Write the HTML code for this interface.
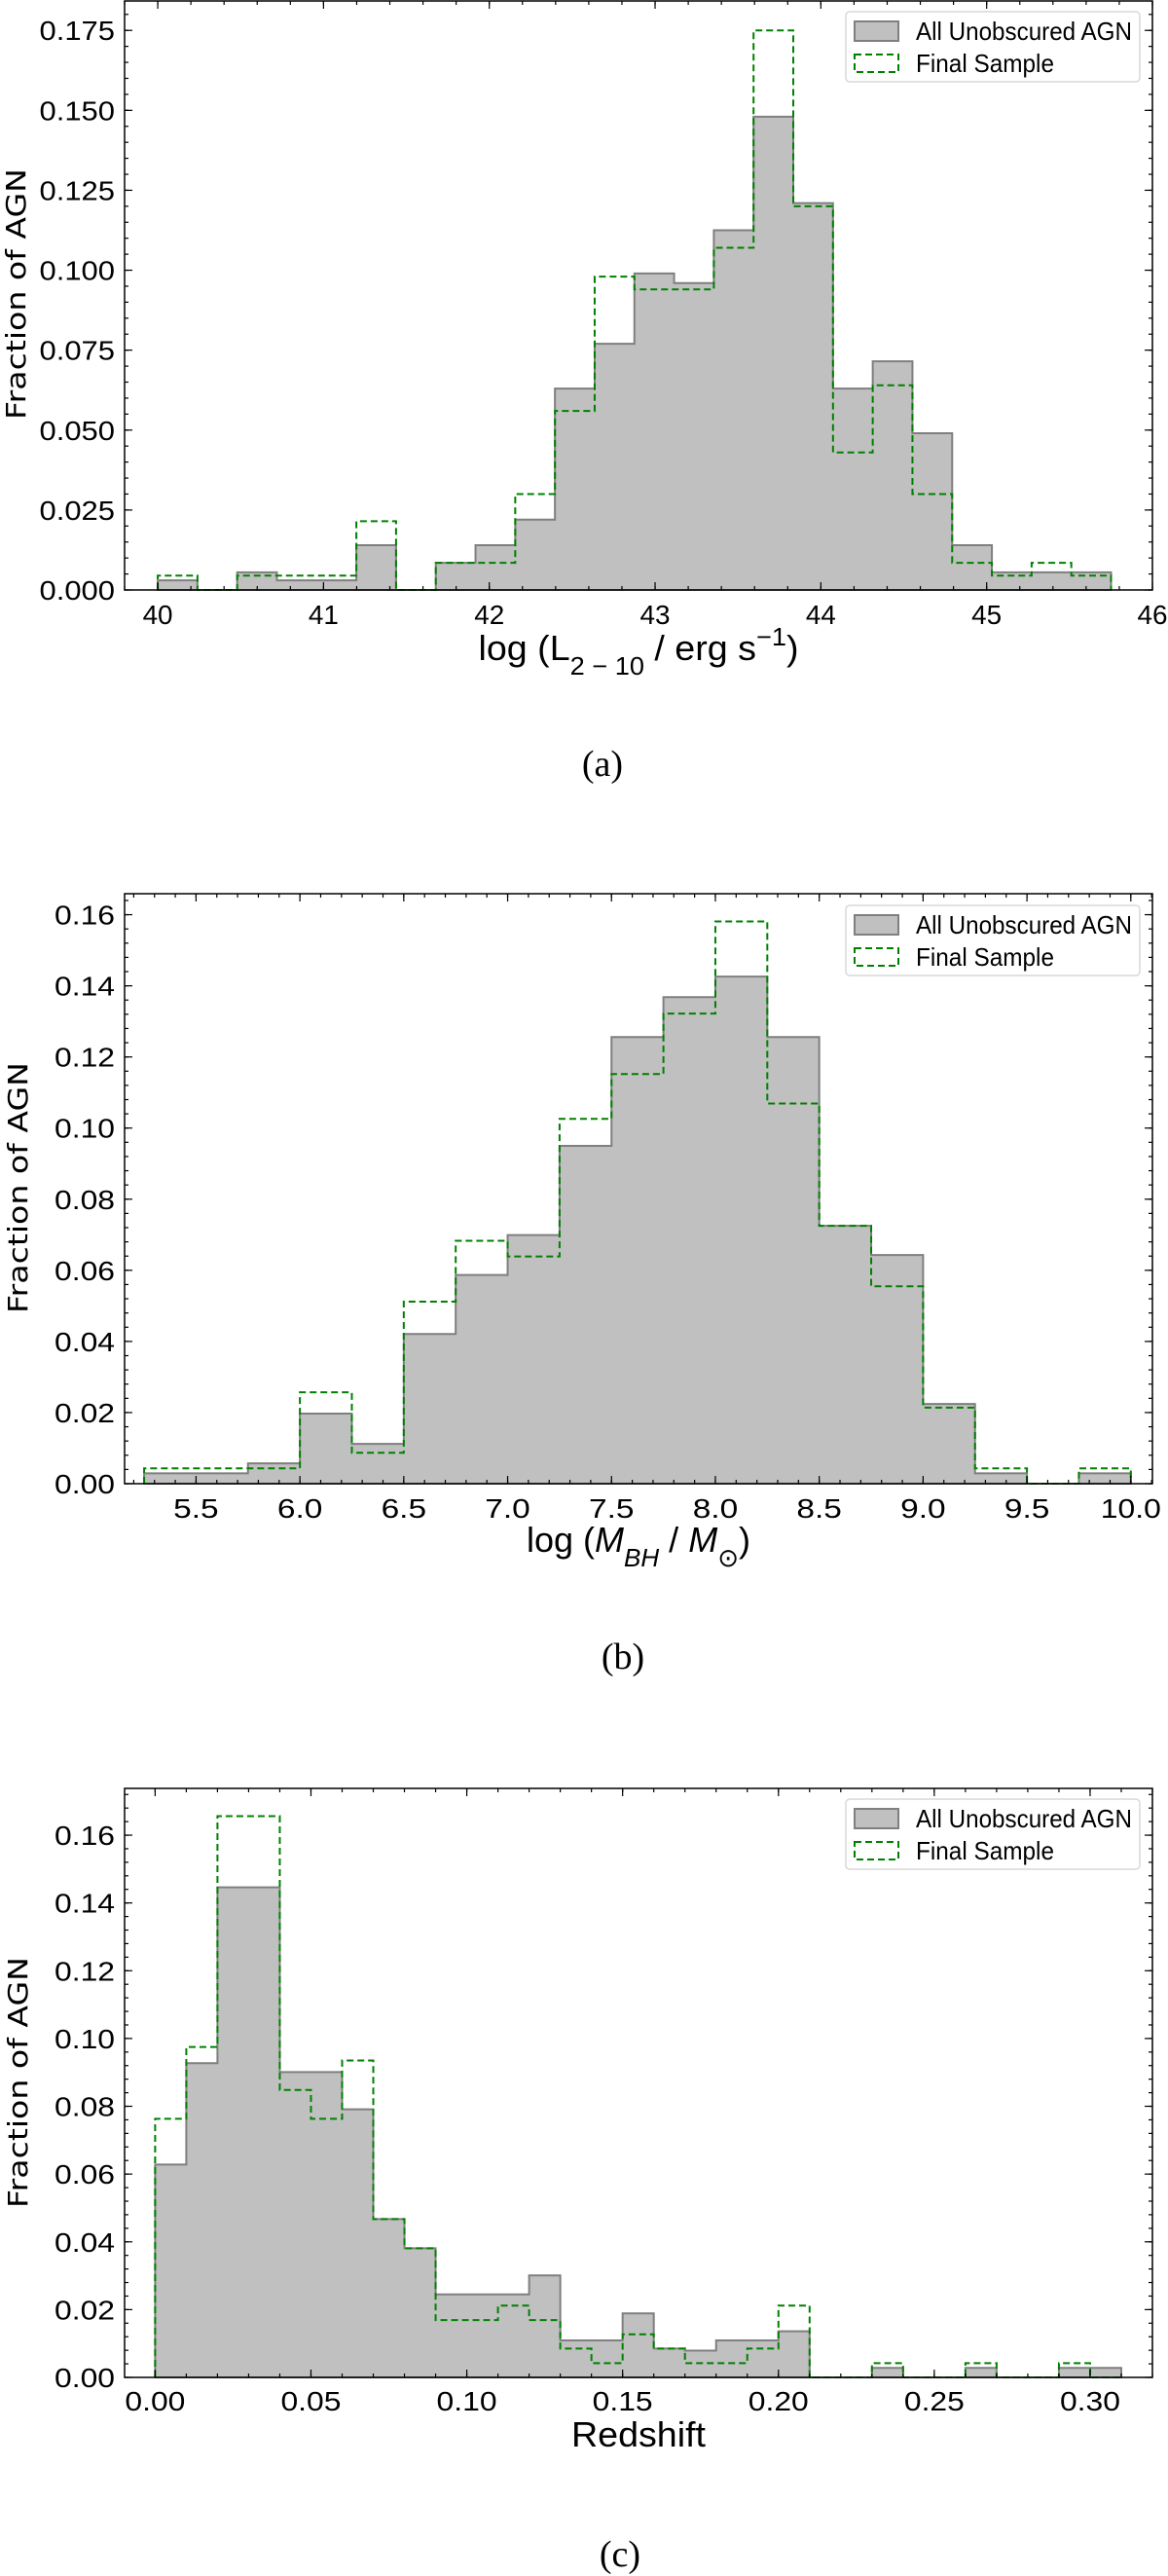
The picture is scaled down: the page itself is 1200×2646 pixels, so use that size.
<!DOCTYPE html>
<html><head><meta charset="utf-8"><style>
html,body{margin:0;padding:0;background:#fff}
svg{display:block}
</style></head><body>
<svg id="fig" width="1200" height="2646" viewBox="0 0 1200 2646" xmlns="http://www.w3.org/2000/svg" font-family="Liberation Sans, DejaVu Sans, sans-serif"></svg>
<script>
// ---- Panel (a): X-ray luminosity ----
const aBinStart = 40.0;
const aBinWidth = 0.2396;
const aAll = [0.003,0,0.0055,0.003,0.003,0.014,0,0.0085,0.014,0.022,0.063,0.077,0.099,0.096,0.1125,0.148,0.121,0.063,0.0715,0.049,0.014,0.0055,0.0055,0.0055];
const aFinal = [0.0045,0,0.0045,0.0045,0.0045,0.0215,0,0.0085,0.0085,0.030,0.056,0.098,0.094,0.094,0.107,0.175,0.120,0.043,0.064,0.030,0.0085,0.0045,0.0085,0.0045];
const aXTicks = [40,41,42,43,44,45,46];
const aXTickLabels = ["40","41","42","43","44","45","46"];
const aYTicks = [0,0.025,0.05,0.075,0.1,0.125,0.15,0.175];
const aYTickLabels = ["0.000","0.025","0.050","0.075","0.100","0.125","0.150","0.175"];

// ---- Panel (b): black hole mass ----
const bBinStart = 5.25;
const bBinWidth = 0.25;
const bAll = [0.0029,0.0029,0.0057,0.0197,0.0112,0.0421,0.0587,0.0699,0.0950,0.1256,0.1368,0.1426,0.1256,0.0725,0.0643,0.0224,0.0029,0,0.0029];
const bFinal = [0.0043,0.0043,0.0043,0.0257,0.0087,0.0512,0.0683,0.0639,0.1026,0.1152,0.1322,0.1581,0.1069,0.0725,0.0555,0.0214,0.0043,0,0.0043];
const bXTicks = [5.5,6,6.5,7,7.5,8,8.5,9,9.5,10];
const bXTickLabels = ["5.5","6.0","6.5","7.0","7.5","8.0","8.5","9.0","9.5","10.0"];
const bYTicks = [0,0.02,0.04,0.06,0.08,0.1,0.12,0.14,0.16];
const bYTickLabels = ["0.00","0.02","0.04","0.06","0.08","0.10","0.12","0.14","0.16"];

// ---- Panel (c): redshift ----
const cBinStart = 0.0;
const cBinWidth = 0.01;
const cAll = [0.0628,0.0927,0.1446,0.1446,0.0901,0.0901,0.0791,0.0467,0.0381,0.0245,0.0245,0.0245,0.0301,0.0109,0.0109,0.0189,0.0085,0.0079,0.0109,0.0109,0.0136,0,0,0.0028,0,0,0.0028,0,0,0.0028,0.0028];
const cFinal = [0.0763,0.0975,0.1656,0.1656,0.0848,0.0763,0.0935,0.0467,0.0381,0.0169,0.0169,0.0212,0.0169,0.0085,0.0042,0.0127,0.0085,0.0042,0.0042,0.0085,0.0212,0,0,0.0042,0,0,0.0042,0,0,0.0042,0];
const cXTicks = [0,0.05,0.1,0.15,0.2,0.25,0.3];
const cXTickLabels = ["0.00","0.05","0.10","0.15","0.20","0.25","0.30"];
const cYTicks = [0,0.02,0.04,0.06,0.08,0.1,0.12,0.14,0.16];
const cYTickLabels = ["0.00","0.02","0.04","0.06","0.08","0.10","0.12","0.14","0.16"];

const NS = "http://www.w3.org/2000/svg";
const svg = document.getElementById("fig");
function mk(tag, attrs, parent){
  const e = document.createElementNS(NS, tag);
  for (const k in attrs) e.setAttribute(k, attrs[k]);
  (parent||svg).appendChild(e);
  return e;
}

function panel(o){
  const g = mk("g", {});
  
  
  const L = 128, R = 1184, T = o.top, B = o.bottom;
  const sx = v => L + (v - o.xmin) / (o.xmax - o.xmin) * (R - L);
  const sy = v => B - (v - o.ymin) / (o.ymax - o.ymin) * (B - T);
  const n = o.all.length;
  const edge = i => o.binStart + i * o.binWidth;
  function stepPath(vals){
    let d = "M" + sx(edge(0)) + "," + sy(0);
    for (let i = 0; i < n; i++){
      d += " L" + sx(edge(i)) + "," + sy(vals[i]) + " L" + sx(edge(i+1)) + "," + sy(vals[i]);
    }
    d += " L" + sx(edge(n)) + "," + sy(0);
    return d;
  }
  const gray = mk("path", {d: stepPath(o.all) + " Z", fill:"#c0c0c0", stroke:"#7f7f7f", "stroke-width":"2"}, g);
  
  
  const green = mk("path", {d: stepPath(o.fin), fill:"none", stroke:"#008000", "stroke-width":"2", "stroke-dasharray":"7,4"}, g);
  
  

  const frame = mk("rect", {x:L, y:T, width:R-L, height:B-T, fill:"none", stroke:"#000", "stroke-width":"1.5"}, g);
  
  

  const tk = mk("g", {stroke:"#000", "stroke-width":"1.2"}, g);
  
  
  const xMinStart = Math.ceil(o.xmin / o.xMinor - 1e-9);
  for (let k = xMinStart; k * o.xMinor <= o.xmax + 1e-9; k++){
    const x = sx(k * o.xMinor);
    mk("line", {x1:x, x2:x, y1:B, y2:B-4}, tk);
    mk("line", {x1:x, x2:x, y1:T, y2:T+4}, tk);
  }
  for (let k = 0; k * o.yMinor <= o.ymax + 1e-9; k++){
    const y = sy(k * o.yMinor);
    mk("line", {x1:L, x2:L+4, y1:y, y2:y}, tk);
    mk("line", {x1:R, x2:R-4, y1:y, y2:y}, tk);
  }
  o.xTicks.forEach((v,i) => {
    const x = sx(v);
    mk("line", {x1:x, x2:x, y1:B, y2:B-8}, tk);
    mk("line", {x1:x, x2:x, y1:T, y2:T+8}, tk);
    const t = mk("text", {x:x, y:o.xTickY, "text-anchor":"middle", "font-size":"28", textLength: o.xTickLabels[i].length*15.5, lengthAdjust:"spacingAndGlyphs"}, g);
    t.textContent = o.xTickLabels[i];
    
    
  });
  o.yTicks.forEach((v,i) => {
    const y = sy(v);
    mk("line", {x1:L, x2:L+8, y1:y, y2:y}, tk);
    mk("line", {x1:R, x2:R-8, y1:y, y2:y}, tk);
    const t = mk("text", {x:L-10, y:y+10, "text-anchor":"end", "font-size":"28", textLength: o.yTickLabels[i].length*15.5, lengthAdjust:"spacingAndGlyphs"}, g);
    t.textContent = o.yTickLabels[i];
    
    
  });

  const yl = mk("text", {x:0, y:0, transform:"translate(" + o.ylabelX + "," + o.ylabelY + ") rotate(-90)", "text-anchor":"middle", "font-size":"28", "font-family":"DejaVu Sans, Liberation Sans, sans-serif", textLength:"258", lengthAdjust:"spacingAndGlyphs"}, g);
  yl.textContent = "Fraction of AGN";
  
  

  const xl = mk("text", {x:656, y:o.xlabelY, "text-anchor":"middle", "font-size":"36", textLength:o.xlabelLen, lengthAdjust:"spacingAndGlyphs"}, g);
  xl.innerHTML = o.xlabel;
  
  

  const lg = mk("g", {}, g);
  
  
  const ly = o.legendTop;
  mk("rect", {x:869, y:ly, width:302, height:72, rx:4, fill:"#fff", stroke:"#d8d8d8", "stroke-width":"1.5"}, lg);
  const p1 = mk("rect", {x:878, y:ly+10, width:45, height:20, fill:"#c0c0c0", stroke:"#7f7f7f", "stroke-width":"2"}, lg);
  
  
  const t1 = mk("text", {x:941, y:ly+29, "font-size":"26", textLength:"222", lengthAdjust:"spacingAndGlyphs"}, lg);
  t1.textContent = "All Unobscured AGN";
  const p2 = mk("rect", {x:878, y:ly+44, width:45, height:18, fill:"none", stroke:"#008000", "stroke-width":"2", "stroke-dasharray":"7,4"}, lg);
  
  
  const t2 = mk("text", {x:941, y:ly+62, "font-size":"26", textLength:"142", lengthAdjust:"spacingAndGlyphs"}, lg);
  t2.textContent = "Final Sample";

  const cap = mk("text", {x:o.capX, y:o.capY, "text-anchor":"middle", "font-size":"38", "font-family":"Liberation Serif, serif"}, svg);
  cap.textContent = o.cap;
  
  
}

panel({name:"panel-a-luminosity", top:1, bottom:606, xmin:39.8, xmax:46, ymin:0, ymax:0.1842,
  binStart:aBinStart, binWidth:aBinWidth, all:aAll, fin:aFinal,
  xTicks:aXTicks, xTickLabels:aXTickLabels, yTicks:aYTicks, yTickLabels:aYTickLabels,
  xMinor:0.2, yMinor:0.005, xTickY:641, ylabelX:26, ylabelY:302, xlabelY:678, xlabelLen:329,
  xlabel:'log (L<tspan baseline-shift="sub" font-size="26">2 − 10</tspan> / erg s<tspan baseline-shift="super" font-size="26">−1</tspan>)',
  legendTop:12, cap:"(a)", capX:619, capY:797});

panel({name:"panel-b-bh-mass", top:918, bottom:1524, xmin:5.156, xmax:10.104, ymin:0, ymax:0.1659,
  binStart:bBinStart, binWidth:bBinWidth, all:bAll, fin:bFinal,
  xTicks:bXTicks, xTickLabels:bXTickLabels, yTicks:bYTicks, yTickLabels:bYTickLabels,
  xMinor:0.1, yMinor:0.004, xTickY:1559, ylabelX:28, ylabelY:1220, xlabelY:1594, xlabelLen:230,
  xlabel:'log (<tspan font-style="italic">M<tspan baseline-shift="sub" font-size="26">BH</tspan></tspan> / <tspan font-style="italic">M</tspan><tspan baseline-shift="sub" font-size="26">⊙</tspan>)',
  legendTop:930, cap:"(b)", capX:640, capY:1714});

panel({name:"panel-c-redshift", top:1837, bottom:2442, xmin:-0.0098, xmax:0.32, ymin:0, ymax:0.1738,
  binStart:cBinStart, binWidth:cBinWidth, all:cAll, fin:cFinal,
  xTicks:cXTicks, xTickLabels:cXTickLabels, yTicks:cYTicks, yTickLabels:cYTickLabels,
  xMinor:0.01, yMinor:0.004, xTickY:2476, ylabelX:28, ylabelY:2139, xlabelY:2513, xlabelLen:138,
  xlabel:'Redshift',
  legendTop:1848, cap:"(c)", capX:637, capY:2636});
</script>
</body></html>
